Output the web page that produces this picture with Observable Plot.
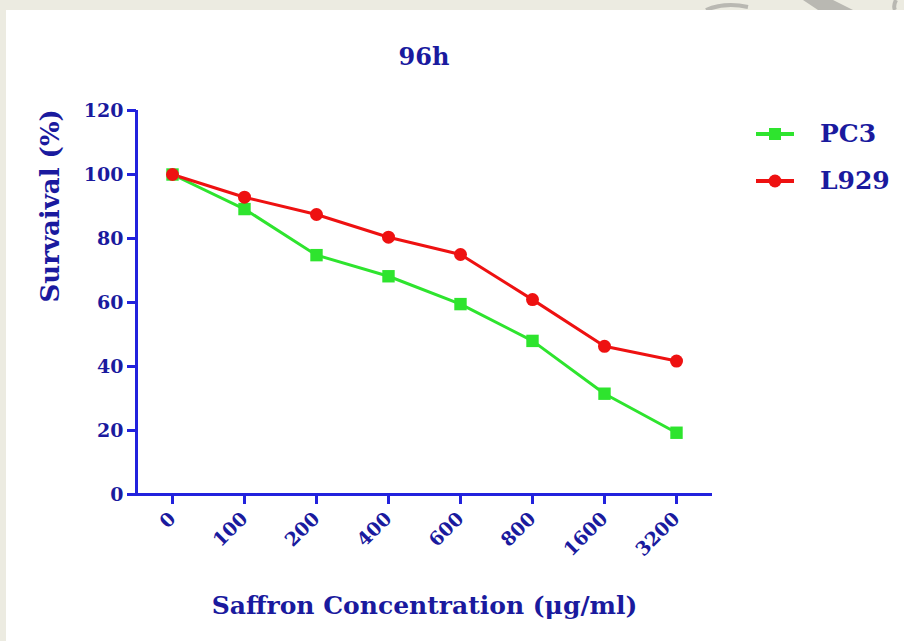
<!DOCTYPE html>
<html><head><meta charset="utf-8">
<script src="https://cdn.jsdelivr.net/npm/d3@7"></script>
<script src="https://cdn.jsdelivr.net/npm/@observablehq/plot@0.6"></script>
<style>
html,body{margin:0;padding:0;}
body{width:904px;height:641px;background:#ecebe1;position:relative;overflow:hidden;font-family:"DejaVu Serif",serif;}
#wm{position:absolute;left:0;top:0;}
#panel{position:absolute;left:6px;top:10px;right:0;bottom:0;background:#fff;}
#title{position:absolute;left:324px;width:200px;top:43px;line-height:28px;text-align:center;font-size:24px;font-weight:bold;color:#1a1a9e;}
#chart{position:absolute;left:0;top:90px;}
#legend{position:absolute;left:754px;top:110px;}
.lg{display:flex;align-items:center;height:47px;font-size:25px;font-weight:bold;color:#1a1a9e;}
.lg svg{margin-right:24px;}
</style>
</head><body>
<svg id="wm" width="904" height="10"><path d="M803,0 L833,0 L853,10 L818,10 Z" fill="#b9b8b2"/><path d="M706,10 Q725,2 748,7" fill="none" stroke="#b9b8b2" stroke-width="4"/><path d="M896,0 Q893,6 895,10" fill="none" stroke="#b9b8b2" stroke-width="4"/></svg>
<div id="panel"></div>
<div id="title">96h</div>
<div id="chart"></div>
<div id="legend"></div>
<script>
// ---- data ----
const categories = ["0","100","200","400","600","800","1600","3200"];
const pc3 = [100, 89.2, 74.8, 68.2, 59.5, 48.0, 31.5, 19.3];
const l929 = [100, 92.9, 87.5, 80.4, 75.0, 60.9, 46.3, 41.7];
const seriesNames = ["PC3", "L929"];
const yTicks = [0, 20, 40, 60, 80, 100, 120];
const titleText = "96h";
const xTitle = "Saffron Concentration (\u03bcg/ml)";
const yTitle = "Survaival (%)";

// ---- styles ----
const colors = {PC3: "#2ee42e", L929: "#ee1111"};
const symbols = {PC3: "square", L929: "circle"};
const axisColor = "#2222dd";
const textColor = "#1a1a9e";
const font = "DejaVu Serif";

const rows = [];
categories.forEach((c, i) => rows.push({conc: c, value: pc3[i], series: "PC3"}));
categories.forEach((c, i) => rows.push({conc: c, value: l929[i], series: "L929"}));

const W = 904, H = 551;
const chart = Plot.plot({
  width: W, height: H,
  marginLeft: 136, marginRight: 192, marginTop: 20, marginBottom: 147,
  style: {fontFamily: font, background: "transparent"},
  x: {type: "point", domain: categories, padding: 0.5, axis: null},
  y: {domain: [0, 120], axis: null},
  color: {domain: seriesNames, range: seriesNames.map(s => colors[s])},
  marks: [
    Plot.ruleY([0], {stroke: axisColor, strokeWidth: 3}),
    Plot.ruleX([categories[0]], {y1: 0, y2: 120, dx: -36, stroke: axisColor, strokeWidth: 3}),
    Plot.axisY({ticks: yTicks, tickSize: 9, tickPadding: 4, stroke: axisColor, strokeWidth: 3,
      fill: textColor, fontSize: 19, fontWeight: "bold", label: null}),
    Plot.axisX({tickSize: 10, tickPadding: 11, tickRotate: -45, stroke: axisColor, strokeWidth: 3,
      fill: textColor, fontSize: 19, fontWeight: "bold", label: null}),
    Plot.line(rows, {x: "conc", y: "value", z: "series", stroke: "series", strokeWidth: 3}),
    Plot.dot(rows.filter(d => d.series === "PC3"), {x: "conc", y: "value", symbol: "square", r: 7, fill: colors.PC3, stroke: null}),
    Plot.dot(rows.filter(d => d.series === "L929"), {x: "conc", y: "value", symbol: "circle", r: 6.5, fill: colors.L929, stroke: null}),
    Plot.text([xTitle], {frameAnchor: "bottom", dy: 111, fontSize: 25, fontWeight: "bold", fill: textColor, lineAnchor: "middle"}),
    Plot.text([yTitle], {frameAnchor: "left", dx: -86, rotate: -90, fontSize: 26, fontWeight: "bold", fill: textColor})
  ]
});
document.getElementById("chart").appendChild(chart);
document.getElementById("title").textContent = titleText;

const legend = document.getElementById("legend");
seriesNames.forEach(s => {
  const row = document.createElement("div");
  row.className = "lg";
  const sw = d3.create("svg").attr("width", 42).attr("height", 16);
  sw.append("line").attr("x1", 2).attr("x2", 40).attr("y1", 8).attr("y2", 8).attr("stroke", colors[s]).attr("stroke-width", 4);
  if (symbols[s] === "square") sw.append("rect").attr("x", 15).attr("y", 2).attr("width", 12).attr("height", 12).attr("fill", colors[s]);
  else sw.append("circle").attr("cx", 21).attr("cy", 8).attr("r", 6.5).attr("fill", colors[s]);
  row.appendChild(sw.node());
  const t = document.createElement("span");
  t.textContent = s;
  row.appendChild(t);
  legend.appendChild(row);
});
</script>
</body></html>
